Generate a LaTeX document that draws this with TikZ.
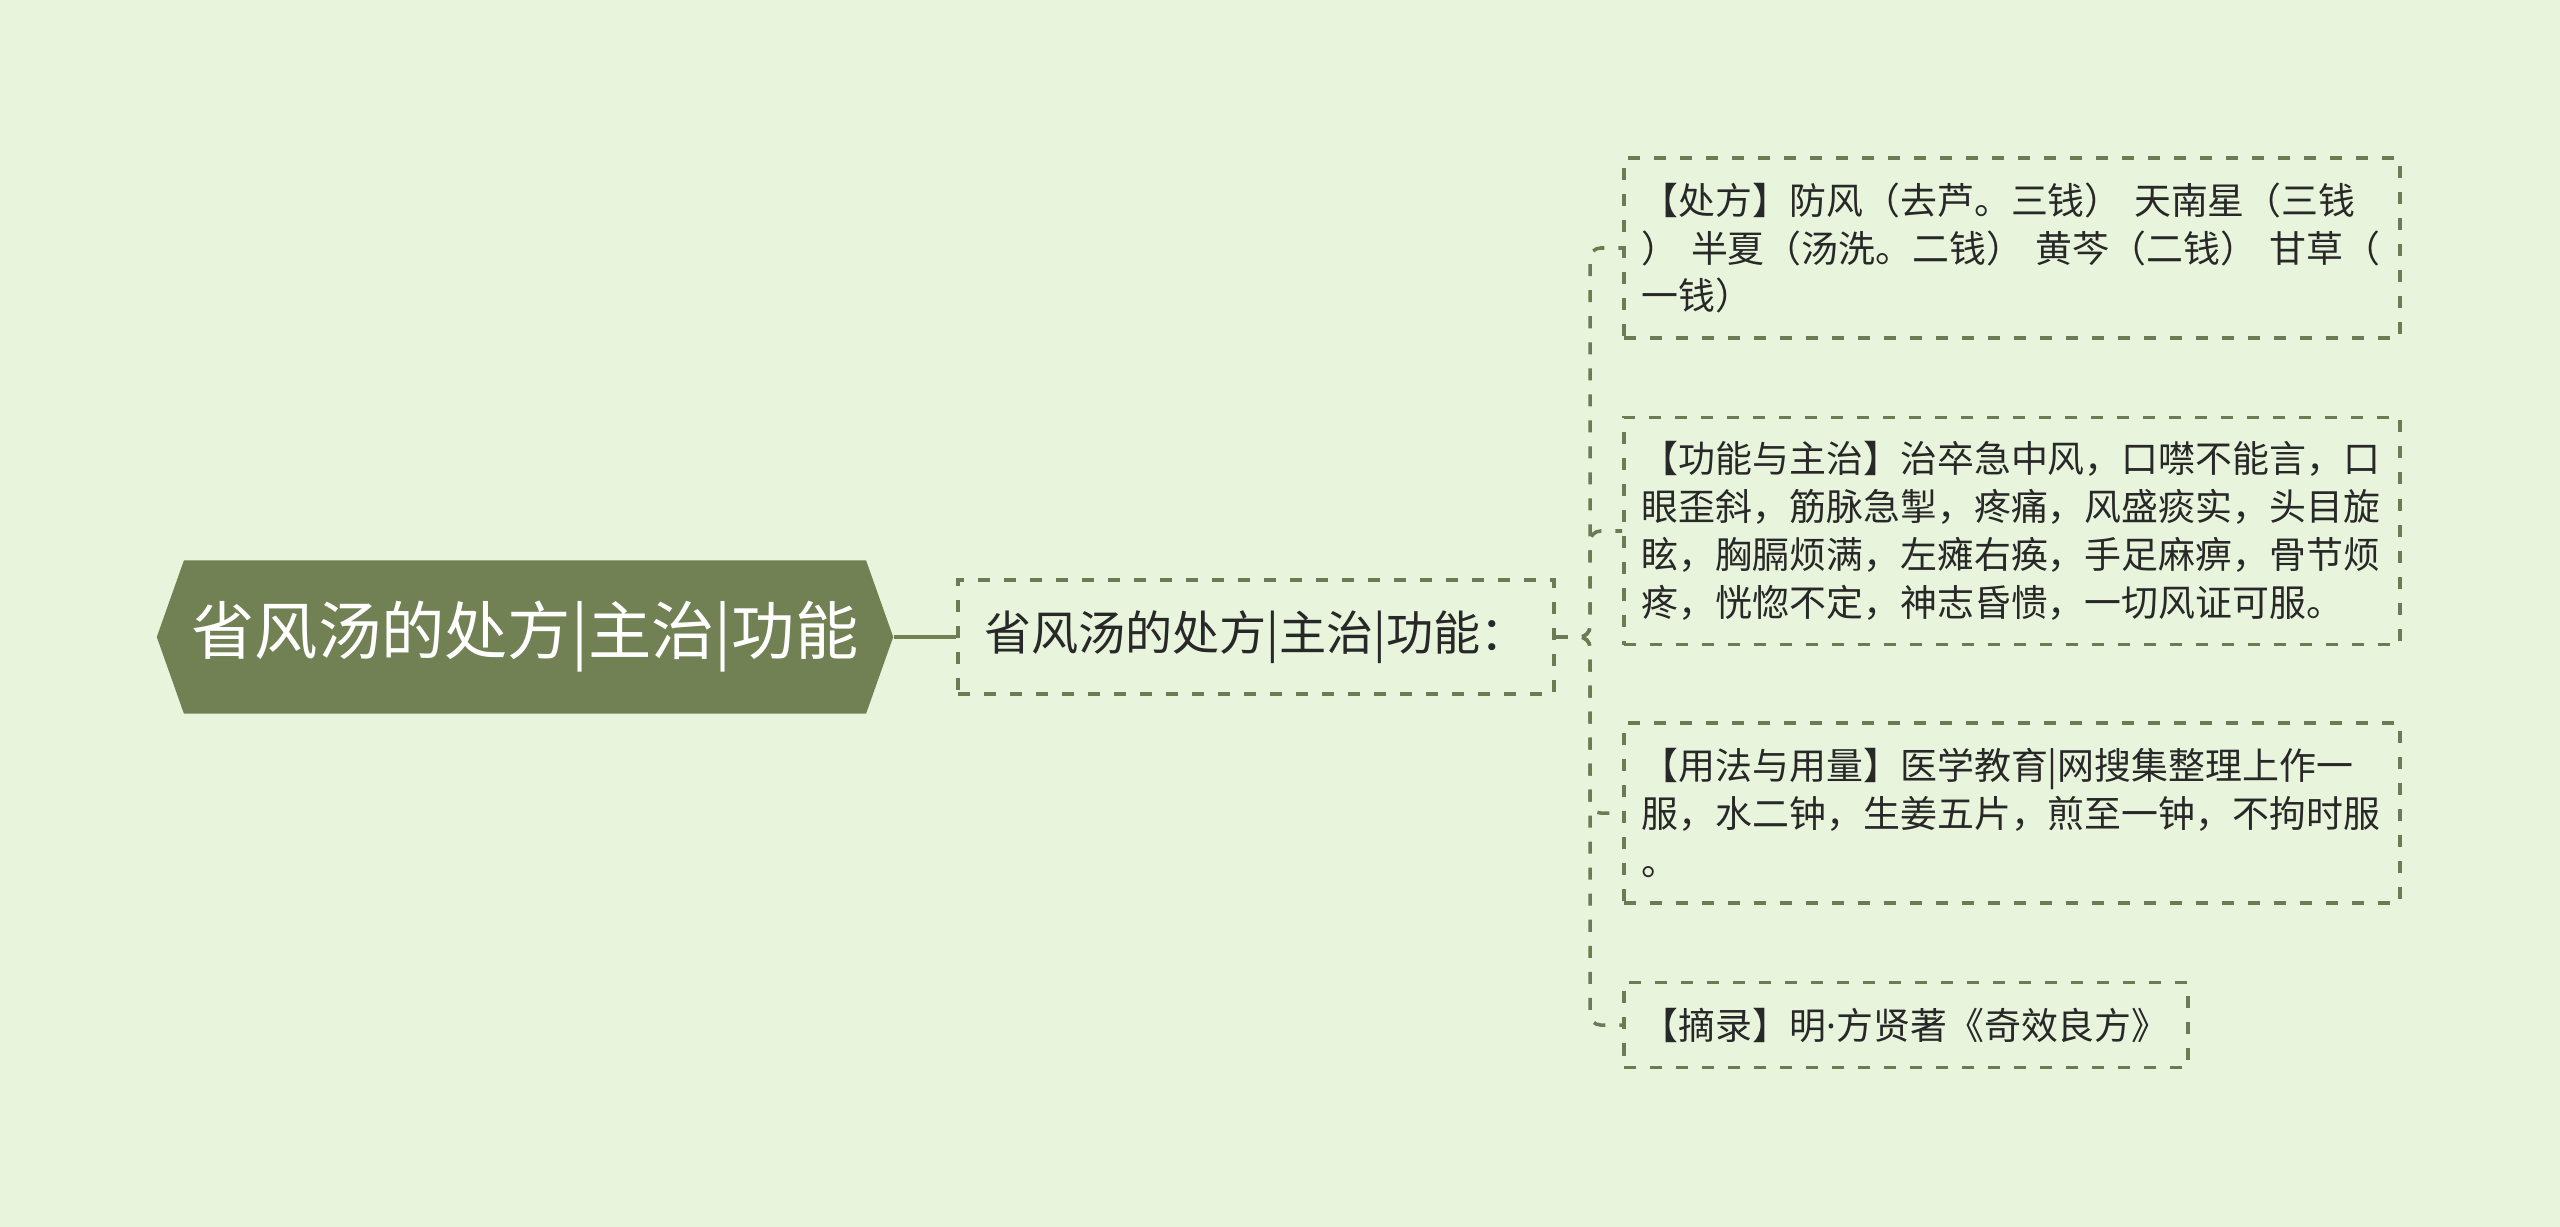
\documentclass[tikz,border=0pt]{standalone}
\usepackage{fontspec}
\setmainfont{Noto Sans CJK SC}
\newfontfamily\latinfont{Noto Sans}
\usetikzlibrary{shapes.symbols}
\definecolor{bgcol}{RGB}{232,245,220}
\definecolor{olive}{RGB}{114,129,84}
\definecolor{linecol}{RGB}{110,122,84}
\definecolor{txtcol}{RGB}{40,40,40}

\begin{document}
\begin{tikzpicture}[
            x=0.01cm, y=-0.01cm,
            topic/.style = {shape=signal, signal to=east and west, signal pointer angle=141, fill=olive, text=white, minimum width=7.36cm, minimum height=1.53cm, inner sep=0pt, font=\fontsize{18pt}{22pt}\selectfont},
            dashbox/.style = {draw=linecol, line width=1pt, dash pattern=on 0.12cm off 0.14cm, text=txtcol},
            subtopic/.style = {dashbox, minimum width=5.96cm, minimum height=1.14cm, inner sep=0pt, font=\fontsize{13.4pt}{16pt}\selectfont},
            leaf/.style = {dashbox, align=left, inner xsep=0.18cm, inner ysep=0pt, font=\fontsize{10.5pt}{13.6pt}\selectfont},
            link/.style = {draw=linecol, line width=1pt, dash pattern=on 0.12cm off 0.14cm, rounded corners=3pt},
        ]

            % Background
            \fill[bgcol] (0,0) rectangle (2560,1227);
            \useasboundingbox (0,0) rectangle (2560,1227);

            % Topics
            \node[topic] (root) at (525,637) {省风汤的处方|主治|功能};
            \node[subtopic] (mid) at (1256,637) {省风汤的处方|主治|功能：};

            % Leaves
            \node[leaf, text width=7.4cm, minimum height=1.8cm] (rx) at (2012,248)
                {【处方】防风（去芦。三钱） 天南星（三钱\\） 半夏（汤洗。二钱） 黄芩（二钱） 甘草（\\一钱）};
            \node[leaf, text width=7.4cm, minimum height=2.27cm] (use) at (2012,531)
                {【功能与主治】治卒急中风，口噤不能言，口\\眼歪斜，筋脉急掣，疼痛，风盛痰实，头目旋\\眩，胸膈烦满，左瘫右痪，手足麻痹，骨节烦\\疼，恍惚不定，神志昏愦，一切风证可服。};
            \node[leaf, text width=7.4cm, minimum height=1.8cm] (dose) at (2012,813)
                {【用法与用量】医学教育|网搜集整理上作一\\服，水二钟，生姜五片，煎至一钟，不拘时服\\。};
            \node[leaf, text width=5.28cm, minimum height=0.85cm] (src) at (1906,1025)
                {【摘录】明{\latinfont ·}方贤著《奇效良方》};

            % Connectors
            \coordinate (hub) at (1590,637);
            \draw[draw=olive, line width=1.2pt] (root.east) -- (mid.west);
            \draw[link] (mid.east) -- (hub) |- (rx.west);
            \draw[link] (mid.east) -- (hub) |- (use.west);
            \draw[link] (mid.east) -- (hub) |- (dose.west);
            \draw[link] (mid.east) -- (hub) |- (src.west);

        \end{tikzpicture}
\end{document}
